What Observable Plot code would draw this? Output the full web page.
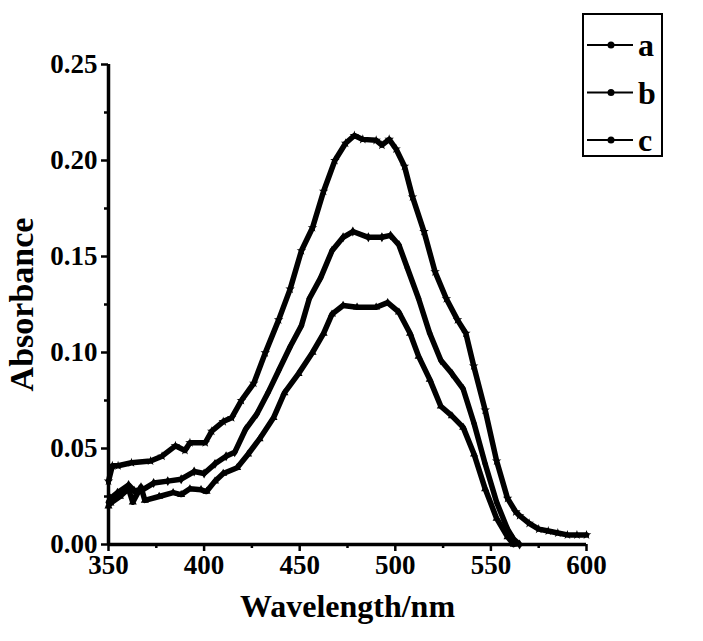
<!DOCTYPE html>
<html><head><meta charset="utf-8">
<script src="https://cdn.jsdelivr.net/npm/d3@7"></script>
<script src="https://cdn.jsdelivr.net/npm/@observablehq/plot@0.6"></script>
<style>
body{margin:0;background:#fff}
#chart{position:relative;width:703px;height:641px}
.legend{position:absolute;left:582px;top:13px;width:81px;height:144px;border:2.5px solid #000;box-sizing:border-box;background:#fff}
.legend svg{display:block;overflow:visible}
</style></head><body><div id="chart"></div>
<script>
const wl_a = [350,352,355,362,372,378,385,390,392.6,400.6,404,410,414.4,419.5,426,432,439,445,450.9,456.7,462.5,468.4,474,478.6,483,490,493,496.8,500.4,504.8,509,515,520.8,526.7,532.5,536.9,541,547,553,558.7,563,565,570,575,580,585,590,595,600];
const abs_a = [0.033,0.041,0.041,0.0426,0.0435,0.046,0.0514,0.049,0.053,0.053,0.059,0.064,0.066,0.075,0.084,0.0998,0.117,0.133,0.153,0.165,0.184,0.200,0.209,0.213,0.211,0.2105,0.208,0.211,0.206,0.197,0.181,0.163,0.142,0.128,0.117,0.110,0.093,0.070,0.0435,0.024,0.017,0.015,0.011,0.008,0.007,0.006,0.005,0.005,0.005];
const wl_b = [350,351,354.7,360.5,363.4,367.8,373.6,381,388,394.8,400,405.7,411.5,416,421.7,427.6,433.4,439.2,445,450.9,455,461,466.9,472.7,477.8,485.9,493,497.5,501.9,506.3,512.2,518,523.8,529.6,535.5,541.2,547,553,558.7,561.7,565];
const abs_b = [0.022,0.024,0.027,0.031,0.028,0.0285,0.032,0.033,0.034,0.038,0.037,0.042,0.046,0.048,0.060,0.068,0.079,0.091,0.103,0.114,0.128,0.139,0.153,0.160,0.163,0.160,0.160,0.161,0.156,0.144,0.128,0.110,0.096,0.089,0.081,0.063,0.042,0.022,0.008,0.003,0.000];
const wl_c = [350,351,356,360.5,362.7,367,369,376.5,383.8,388,392.6,398.4,401.3,405.7,410,417.3,423,429,436.3,442,449.4,456.7,462.5,466.9,472.7,480,490,496,501.9,507.7,512.2,518,523.8,529.6,535.5,541.2,547,553,558.7,562];
const abs_c = [0.020,0.0215,0.025,0.029,0.022,0.030,0.023,0.025,0.027,0.026,0.029,0.0285,0.0276,0.033,0.037,0.040,0.047,0.055,0.066,0.079,0.089,0.100,0.110,0.120,0.1245,0.1236,0.1236,0.126,0.121,0.110,0.098,0.086,0.072,0.067,0.061,0.047,0.029,0.0136,0.004,0.000];
const series = ["a","b","c"];
const symbols = ["star","diamond","triangle"];
const xMajor = [350,400,450,500,550,600];
const xMinor = [375,425,475,525,575];
const yMajor = [0,0.05,0.10,0.15,0.20,0.25];
const yMinor = [0.025,0.075,0.125,0.175,0.225];

const data = [];
[[wl_a,abs_a,"a"],[wl_b,abs_b,"b"],[wl_c,abs_c,"c"]].forEach(([w,v,s]) => w.forEach((x,i)=>data.push({wl:x,abs:v[i],s})));

const FONT = '"Liberation Serif", "Times New Roman", serif';
const plot = Plot.plot({
  width: 703, height: 641,
  marginLeft: 108, marginRight: 117, marginTop: 64, marginBottom: 97,
  style: {fontFamily: FONT, fontWeight: "bold", fontSize: "27px", color: "#000", background: "#fff"},
  x: {domain: [350, 600]},
  y: {domain: [0, 0.25]},
  symbol: {domain: series, range: symbols},
  marks: [
    Plot.axisX(xMajor, {tickSize: 7, tickPadding: 3, strokeWidth: 2.5, fontSize: 27, fontWeight: "bold", label: null, tickFormat: d => d}),
    Plot.axisX(xMinor, {tickSize: 4, strokeWidth: 2.5, tickFormat: () => "", label: null}),
    Plot.axisY(yMajor, {tickSize: 7, tickPadding: 4, strokeWidth: 2.5, fontSize: 27, fontWeight: "bold", label: null, tickFormat: d3.format(".2f")}),
    Plot.axisY(yMinor, {tickSize: 4, strokeWidth: 2.5, tickFormat: () => "", label: null}),
    Plot.line(data, {x: "wl", y: "abs", z: "s", stroke: "#000", strokeWidth: 5.5, curve: "linear"}),
    Plot.dot(data, {x: "wl", y: "abs", symbol: "s", r: 3, fill: "#000"}),
    Plot.ruleX([350], {y1: 0, y2: 0.25, stroke: "#000", strokeWidth: 3.5}),
    Plot.ruleY([0], {x1: 350, x2: 600, stroke: "#000", strokeWidth: 3.5}),
    Plot.text(["Wavelength/nm"], {frameAnchor: "bottom", dy: 72, fontSize: 32, fontWeight: "bold", fill: "#000"}),
    Plot.text(["Absorbance"], {y: [0.125], frameAnchor: "left", textAnchor: "middle", dx: -86, rotate: -90, fontSize: 34, fontWeight: "bold", fill: "#000", letterSpacing: "4.5px"})
  ]
});
const chart = document.getElementById("chart");
chart.appendChild(plot);

// legend
const leg = document.createElement("div");
leg.className = "legend";
chart.appendChild(leg);
const ls = d3.select(leg).append("svg").attr("width", 76).attr("height", 139);
series.forEach((s, i) => {
  const cy = 30 + i * 47.5;
  ls.append("line").attr("x1", 3).attr("x2", 49).attr("y1", cy).attr("y2", cy).attr("stroke", "#000").attr("stroke-width", 2);
  ls.append("circle").attr("cx", 27).attr("cy", cy).attr("r", 3.5).attr("fill", "#000");
  ls.append("text").attr("x", 54).attr("y", cy).attr("dy", "0.35em").text(s)
    .attr("font-family", FONT).attr("font-weight", "bold").attr("font-size", 32).attr("fill", "#000");
});
</script></body></html>
